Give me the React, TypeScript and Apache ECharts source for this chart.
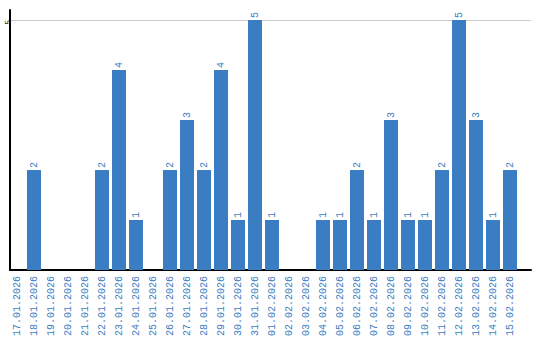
import React, { useEffect, useRef } from "react";
import * as echarts from "echarts";

const dates = [
  "17.01.2026", "18.01.2026", "19.01.2026", "20.01.2026", "21.01.2026",
  "22.01.2026", "23.01.2026", "24.01.2026", "25.01.2026", "26.01.2026",
  "27.01.2026", "28.01.2026", "29.01.2026", "30.01.2026", "31.01.2026",
  "01.02.2026", "02.02.2026", "03.02.2026", "04.02.2026", "05.02.2026",
  "06.02.2026", "07.02.2026", "08.02.2026", "09.02.2026", "10.02.2026",
  "11.02.2026", "12.02.2026", "13.02.2026", "14.02.2026", "15.02.2026",
];
const counts = [
  0, 2, 0, 0, 0, 2, 4, 1, 0, 2,
  3, 2, 4, 1, 5, 1, 0, 0, 1, 1,
  2, 1, 3, 1, 1, 2, 5, 3, 1, 2,
];
const yMin = 0;
const yMax = 5;
const yInterval = 5;

const BLUE = "#3b7dc2";
const MONO = "'Liberation Mono', 'DejaVu Sans Mono', monospace";

export default function App() {
  const ref = useRef<HTMLDivElement>(null);
  useEffect(() => {
    const chart = echarts.init(ref.current!, null, { renderer: "svg" });
    chart.setOption({
      animation: false,
      grid: [
        { left: 10, right: 9, top: 20, bottom: 70 },
        { left: 10, right: 9, top: 10, bottom: 70 },
        { left: 8.5, width: 510, top: 20, bottom: 70 },
      ],
      xAxis: [
        {
          gridIndex: 0, type: "value", min: 0, max: 1,
          axisLine: { show: true, lineStyle: { color: "#000", width: 2 } },
          axisTick: { show: false }, axisLabel: { show: false }, splitLine: { show: false },
        },
        { gridIndex: 1, type: "value", min: 0, max: 1, show: false },
        {
          gridIndex: 2, type: "category", data: dates,
          axisLine: { show: false }, axisTick: { show: false },
          axisLabel: {
            interval: 0, rotate: 90, color: BLUE, fontFamily: MONO, fontSize: 10, margin: 6,
          },
        },
      ],
      yAxis: [
        {
          gridIndex: 0, type: "value", min: yMin, max: yMax, interval: yInterval,
          axisLine: { show: false }, axisTick: { show: false },
          splitLine: { show: true, lineStyle: { color: "#cccccc", width: 1 } },
          axisLabel: {
            rotate: 90, showMinLabel: false, fontSize: 8, color: "#000", fontFamily: MONO,
            margin: 3, align: "right", verticalAlign: "middle", padding: [0, 0, 0, 0],
          },
        },
        {
          gridIndex: 1, type: "value", min: 0, max: 1,
          axisLine: { show: true, lineStyle: { color: "#000", width: 2 } },
          axisTick: { show: false }, axisLabel: { show: false }, splitLine: { show: false },
        },
        { gridIndex: 2, type: "value", min: yMin, max: yMax, show: false },
      ],
      series: [
        {
          type: "bar", xAxisIndex: 2, yAxisIndex: 2, data: counts, barWidth: 14,
          itemStyle: { color: BLUE },
          label: {
            show: true, position: "top", distance: 2, rotate: 90,
            align: "left", verticalAlign: "middle",
            fontFamily: MONO, fontSize: 10, color: BLUE,
            formatter: (p: any) => (p.value ? String(p.value) : ""),
          },
        },
      ],
    });
    return () => chart.dispose();
  }, []);
  return <div ref={ref} style={{ width: 540, height: 340, position: "absolute", left: 0, top: 0 }} />;
}
